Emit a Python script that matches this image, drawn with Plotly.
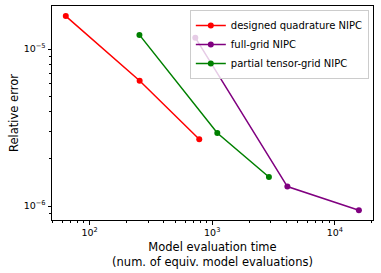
import plotly.graph_objects as go
import numpy as np

# Data
dq_x = [64, 256, 784]
dq_y = [1.62e-5, 6.28e-6, 2.66e-6]

fg_x = [728, 4100, 15700]
fg_y = [1.18e-5, 1.33e-6, 9.4e-7]

pt_x = [255, 1100, 2900]
pt_y = [1.23e-5, 2.92e-6, 1.53e-6]

x_major = [100, 1000, 10000]
x_major_text = ["10<sup>2</sup>", "10<sup>3</sup>", "10<sup>4</sup>"]
y_major = [1e-6, 1e-5]
y_major_text = ["10<sup>−6</sup>", "10<sup>−5</sup>"]

x_minor = [m * 10 ** e for e in range(1, 5) for m in range(2, 10)]
y_minor = [m * 10 ** e for e in range(-7, -4) for m in range(2, 10)]

font = "DejaVu Sans"
fig = go.Figure()
for xs, ys, name, col in [
    (dq_x, dq_y, "designed quadrature NIPC", "red"),
    (fg_x, fg_y, "full-grid NIPC", "purple"),
    (pt_x, pt_y, "partial tensor-grid NIPC", "green"),
]:
    fig.add_trace(go.Scatter(x=xs, y=ys, name=name, mode="lines+markers",
                             line=dict(color=col, width=1.5),
                             marker=dict(color=col, size=6)))

axis_common = dict(type="log", showline=True, linecolor="black", linewidth=1,
                   mirror=True, ticks="outside", ticklen=3.5, tickwidth=0.8,
                   tickcolor="black", showgrid=False, zeroline=False,
                   automargin=False,
                   tickfont=dict(family=font, size=9.5, color="black"))

fig.update_xaxes(**axis_common, range=[np.log10(49.4), np.log10(20460)],
                 tickvals=x_major, ticktext=x_major_text,
                 minor=dict(tickvals=x_minor, ticks="outside", ticklen=2,
                            tickcolor="black", showgrid=False),
                 title=dict(text="Model evaluation time<br>(num. of equiv. model evaluations)",
                            font=dict(family=font, size=11.5, color="black"), standoff=6))
fig.update_yaxes(**axis_common, range=[-6.089, -4.726],
                 tickvals=y_major, ticktext=y_major_text,
                 minor=dict(tickvals=y_minor, ticks="outside", ticklen=2,
                            tickcolor="black", showgrid=False),
                 title=dict(text="Relative error",
                            font=dict(family=font, size=11.5, color="black"), standoff=2))

fig.update_layout(
    width=381, height=273,
    margin=dict(l=52, r=8, t=6, b=53),
    plot_bgcolor="white", paper_bgcolor="white",
    font=dict(family=font, color="black"),
    legend=dict(x=0.987, y=0.981, xanchor="right", yanchor="top",
                bordercolor="#cccccc", borderwidth=1, bgcolor="rgba(255,255,255,0.8)",
                font=dict(family=font, size=10, color="black"),
                tracegroupgap=0, itemwidth=30),
)
fig.write_html("out.html", config={"displayModeBar": False},
               post_script="document.body.style.margin='0px';document.body.style.padding='0px';")
